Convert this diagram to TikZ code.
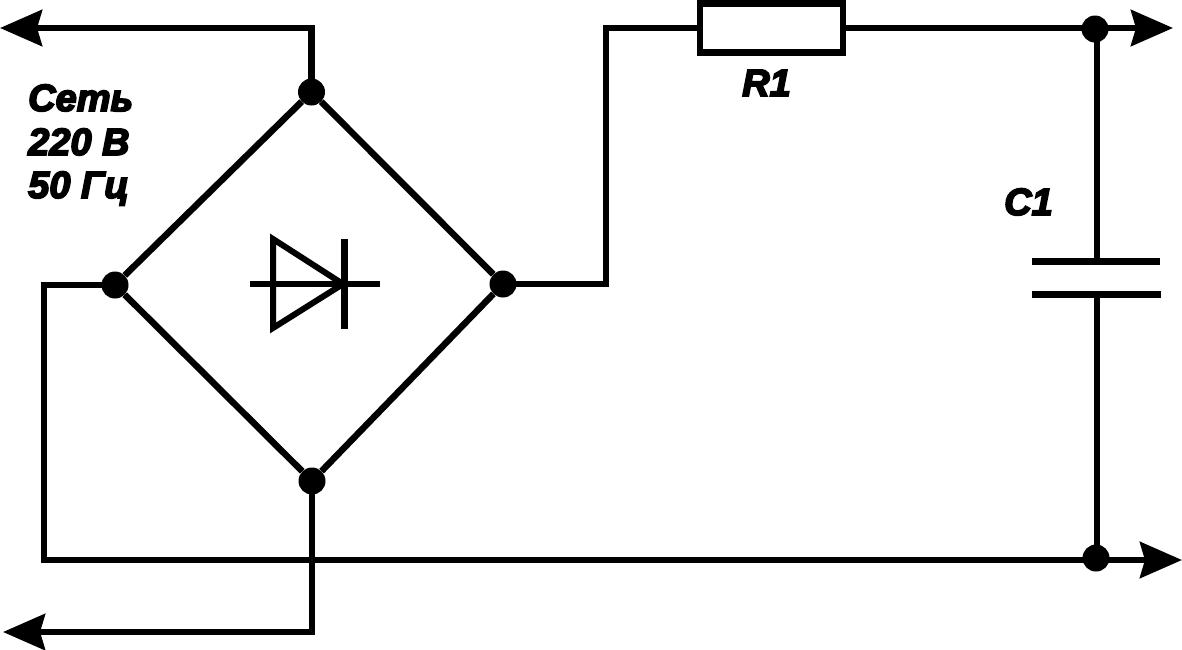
\documentclass[tikz,border=0pt]{standalone}
\usepackage{fontspec}
\setmainfont{Liberation Sans}
\newfontfamily\lblfont[RawFeature={embolden=4.5}]{Liberation Sans Bold Italic}
\usetikzlibrary{arrows.meta}
\tikzset{
  wire/.style={line width=6.5pt,line cap=butt,line join=miter},
  thinwire/.style={line width=6.5pt},
  dot/.style={circle,fill=black,inner sep=0pt,minimum size=27pt},
  outarrow/.style={-{Stealth[length=42pt,width=36pt,inset=5pt]}},
  lbl/.style={font=\lblfont\fontsize{38}{43}\selectfont,inner sep=0pt,text=black},
  resbox/.style={draw,line width=6.5pt,fill=white,minimum width=143pt,minimum height=49pt,inner sep=0pt}
}
\begin{document}
\begin{tikzpicture}[x=1pt,y=-1pt]
\useasboundingbox (0,0) rectangle (1182,649);
% bridge vertices
\node[dot] (top) at (311.5,92) {};
\node[dot] (left) at (115,285) {};
\node[dot] (right) at (503,284) {};
\node[dot] (bot) at (312,481) {};
\node[dot] (jt) at (1095,29) {};
\node[dot] (jb) at (1096,558) {};
% free ends and corners
\coordinate (ta) at (0,28);
\coordinate (tc) at (311.5,28);
\coordinate (lc1) at (44,285);
\coordinate (lc2) at (44,560);
\coordinate (ra) at (1173,28);
\coordinate (ba) at (1182,560);
\coordinate (bc) at (312,632);
\coordinate (bla) at (3,632);
\coordinate (rc1) at (606,284);
\coordinate (rc2) at (606,28);
\coordinate (cp1) at (1097,261);
\coordinate (cp2) at (1097,294);
\coordinate (cj1) at (1097,29);
\coordinate (cj2) at (1097,558);
\node[resbox] (r1) at (771.5,28) {};
% bridge
\draw[thinwire] (top) -- (right);
\draw[thinwire] (right) -- (bot);
\draw[thinwire] (bot) -- (left);
\draw[thinwire] (left) -- (top);
% wires
\draw[wire,outarrow] (top.center) -- (tc) -- (ta);
\draw[wire] (left.center) -- (lc1) -- (lc2) -- ++(3.25,0);
\draw[wire,outarrow] (lc2) -- (ba);
\draw[wire,outarrow] (bot.center) -- (bc) -- (bla);
\draw[wire] (right.center) -- (rc1) -- (rc2) -- (r1.west);
\draw[wire,outarrow] (r1.east) -- (ra);
\draw[wire] (cj1) -- (cp1);
\draw[wire] (cp2) -- (cj2);
% capacitor
\coordinate (c1a) at (1032,261);
\coordinate (c1b) at (1160,261);
\coordinate (c2a) at (1032,294);
\coordinate (c2b) at (1161,294);
\draw[line width=7pt] (c1a) -- (c1b);
\draw[line width=7pt] (c2a) -- (c2b);
% diode
\coordinate (d1) at (273,239);
\coordinate (d2) at (273,328);
\coordinate (d3) at (343,284);
\coordinate (d4) at (250,284);
\coordinate (d5) at (380,284);
\coordinate (d6) at (344,239);
\coordinate (d7) at (344,329);
\draw[line width=6pt,line join=miter] (d1) -- (d3) -- (d2) -- cycle;
\draw[line width=5.5pt] (d4) -- (d5);
\draw[line width=7pt] (d6) -- (d7);
% labels
\node[lbl,anchor=base west] (l1) at (28,111) {Сеть};
\node[lbl,anchor=base west] (l2) at (28,155) {220 В};
\node[lbl,anchor=base west] (l3) at (28,198) {50 Гц};
\node[lbl,anchor=base west] (r1l) at (742,96) {R1};
\node[lbl,anchor=base west] (c1l) at (1004,215) {C1};
\end{tikzpicture}
\end{document}
